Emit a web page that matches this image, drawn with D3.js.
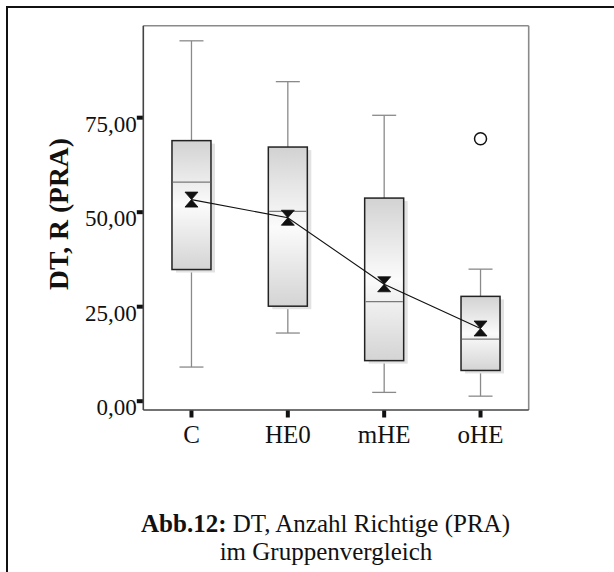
<!DOCTYPE html>
<html>
<head>
<meta charset="utf-8">
<script src="https://cdn.jsdelivr.net/npm/d3@7"></script>
<style>
  html, body { margin: 0; padding: 0; background: #fff; }
  svg { display: block; }
  text { font-family: "Liberation Serif", "Times New Roman", serif; fill: #111; }
</style>
</head>
<body>
<svg id="chart" width="614" height="572"></svg>
<script>
// ---- data ----
const categories = ["C", "HE0", "mHE", "oHE"];
const lowerWhisker = [8.9, 17.9, 2.2, 1.2];
const q1Values     = [34.7, 25.0, 10.6, 8.0];
const medianValues = [57.8, 50.1, 26.2, 16.3];
const q3Values     = [68.8, 67.1, 53.6, 27.6];
const upperWhisker = [95.2, 84.4, 75.5, 34.8];
const meanValues   = [53.2, 48.4, 30.8, 19.1];
const outlierCats  = ["oHE"];
const outlierVals  = [69.3];
const yTickValues  = [0, 25, 50, 75];
const yLabel = "DT, R (PRA)";
const captionBold = "Abb.12:";
const captionLine1 = " DT, Anzahl Richtige (PRA)";
const captionLine2 = "im Gruppenvergleich";

const svg = d3.select("#chart");

// gradient for boxes
const defs = svg.append("defs");
const grad = defs.append("linearGradient").attr("id", "boxGrad")
  .attr("x1", 0).attr("y1", 0).attr("x2", 0).attr("y2", 1);
grad.append("stop").attr("offset", "0%").attr("stop-color", "#d2d2d2");
grad.append("stop").attr("offset", "50%").attr("stop-color", "#fbfbfb");
grad.append("stop").attr("offset", "100%").attr("stop-color", "#d4d4d4");

// outer frame (top and left lines)
svg.append("line").attr("x1", 6).attr("x2", 614).attr("y1", 7).attr("y2", 7)
  .attr("stroke", "#111").attr("stroke-width", 2);
svg.append("line").attr("x1", 7).attr("x2", 7).attr("y1", 6).attr("y2", 572)
  .attr("stroke", "#111").attr("stroke-width", 2);

const plot = { left: 143.3, right: 528.7, top: 25.7, bottom: 410 };

const x = d3.scaleBand().domain(categories).range([plot.left, plot.right]).padding(0);
const y = d3.scaleLinear().domain([-2.46, 99.2]).range([plot.bottom, plot.top]);

// plot frame
const frame = svg.append("g");
frame.append("line").attr("x1", plot.left).attr("x2", plot.right).attr("y1", plot.top).attr("y2", plot.top)
  .attr("stroke", "#8a8a8a").attr("stroke-width", 1.6);
frame.append("line").attr("x1", plot.right).attr("x2", plot.right).attr("y1", plot.top).attr("y2", plot.bottom)
  .attr("stroke", "#8a8a8a").attr("stroke-width", 1.6);
frame.append("line").attr("x1", plot.left).attr("x2", plot.left).attr("y1", plot.top).attr("y2", plot.bottom)
  .attr("stroke", "#444").attr("stroke-width", 1.6);
frame.append("line").attr("x1", plot.left).attr("x2", plot.right).attr("y1", plot.bottom).attr("y2", plot.bottom)
  .attr("stroke", "#444").attr("stroke-width", 1.6);

// y axis
const yAxis = d3.axisLeft(y).tickValues(yTickValues).tickSize(6).tickPadding(1)
  .tickFormat(d => d3.format(".2f")(d).replace(".", ","));
const gy = svg.append("g").attr("transform", `translate(${plot.left - 0.5},0)`).call(yAxis);
gy.select(".domain").remove();
gy.selectAll(".tick line").attr("stroke", "#111").attr("stroke-width", 4);
gy.selectAll(".tick text").attr("font-size", 23).attr("dy", "0.62em").attr("x", -6)
  .style("font-family", "'Liberation Serif', serif").attr("fill", "#111");

// x axis
const xAxis = d3.axisBottom(x).tickSize(7).tickPadding(7);
const gx = svg.append("g").attr("transform", `translate(0,${plot.bottom + 0.5})`).call(xAxis);
gx.select(".domain").remove();
gx.selectAll(".tick line").attr("stroke", "#111").attr("stroke-width", 4);
gx.selectAll(".tick text").attr("font-size", 25).attr("dy", "0.75em")
  .style("font-family", "'Liberation Serif', serif").attr("fill", "#111");

// y label
svg.append("text")
  .attr("transform", `translate(68,214) rotate(-90)`)
  .attr("text-anchor", "middle")
  .attr("font-size", 27).attr("font-weight", "bold")
  .attr("textLength", 152).attr("lengthAdjust", "spacingAndGlyphs")
  .text(yLabel);

// boxes
const boxW = 39;
const capW = 24;
const data = categories.map((c, i) => ({
  c, lo: lowerWhisker[i], q1: q1Values[i], med: medianValues[i],
  q3: q3Values[i], hi: upperWhisker[i], mean: meanValues[i]
}));
const cx = c => x(c) + x.bandwidth() / 2;

const g = svg.append("g");
const boxes = g.selectAll("g.box").data(data).join("g").attr("class", "box");

// whiskers
boxes.append("line").attr("x1", d => cx(d.c)).attr("x2", d => cx(d.c))
  .attr("y1", d => y(d.hi)).attr("y2", d => y(d.q3))
  .attr("stroke", "#8a8a8a").attr("stroke-width", 1.3);
boxes.append("line").attr("x1", d => cx(d.c)).attr("x2", d => cx(d.c))
  .attr("y1", d => y(d.q1)).attr("y2", d => y(d.lo))
  .attr("stroke", "#8a8a8a").attr("stroke-width", 1.3);
boxes.append("line").attr("x1", d => cx(d.c) - capW / 2).attr("x2", d => cx(d.c) + capW / 2)
  .attr("y1", d => y(d.hi)).attr("y2", d => y(d.hi))
  .attr("stroke", "#8a8a8a").attr("stroke-width", 1.3);
boxes.append("line").attr("x1", d => cx(d.c) - capW / 2).attr("x2", d => cx(d.c) + capW / 2)
  .attr("y1", d => y(d.lo)).attr("y2", d => y(d.lo))
  .attr("stroke", "#8a8a8a").attr("stroke-width", 1.3);

// shadow
boxes.append("rect")
  .attr("x", d => cx(d.c) - boxW / 2 + 4).attr("y", d => y(d.q3) + 3)
  .attr("width", boxW).attr("height", d => y(d.q1) - y(d.q3))
  .attr("fill", "#e2e2e2");
// box
boxes.append("rect")
  .attr("x", d => cx(d.c) - boxW / 2).attr("y", d => y(d.q3))
  .attr("width", boxW).attr("height", d => y(d.q1) - y(d.q3))
  .attr("fill", "url(#boxGrad)").attr("stroke", "#222").attr("stroke-width", 1.5);
// median
boxes.append("line")
  .attr("x1", d => cx(d.c) - boxW / 2 + 0.8).attr("x2", d => cx(d.c) + boxW / 2 - 0.8)
  .attr("y1", d => y(d.med)).attr("y2", d => y(d.med))
  .attr("stroke", "#7a7a7a").attr("stroke-width", 1.3);

// mean line
const line = d3.line().x(d => cx(d.c)).y(d => y(d.mean));
g.append("path").datum(data).attr("d", line)
  .attr("fill", "none").attr("stroke", "#111").attr("stroke-width", 1.1);

// mean markers (hourglass)
g.selectAll("path.mean").data(data).join("path").attr("class", "mean")
  .attr("transform", d => `translate(${cx(d.c)},${y(d.mean)})`)
  .attr("d", "M-6.5,-7.5 L6.5,-7.5 L0,0 L6.5,7.5 L-6.5,7.5 L0,0 Z")
  .attr("fill", "#111").attr("stroke", "#111").attr("stroke-width", 0.8)
  .attr("stroke-linejoin", "miter");

// outliers
g.selectAll("circle.out").data(outlierCats.map((c, i) => ({ c, v: outlierVals[i] })))
  .join("circle").attr("class", "out")
  .attr("cx", d => cx(d.c)).attr("cy", d => y(d.v)).attr("r", 6)
  .attr("fill", "none").attr("stroke", "#111").attr("stroke-width", 1.5);

// caption
const cap = svg.append("text").attr("x", 325.5).attr("y", 531.5)
  .attr("text-anchor", "middle").attr("font-size", 25);
cap.append("tspan").attr("font-weight", "bold").text(captionBold);
cap.append("tspan").text(captionLine1);
svg.append("text").attr("x", 326).attr("y", 559.5)
  .attr("text-anchor", "middle").attr("font-size", 25)
  .text(captionLine2);
</script>
</body>
</html>
